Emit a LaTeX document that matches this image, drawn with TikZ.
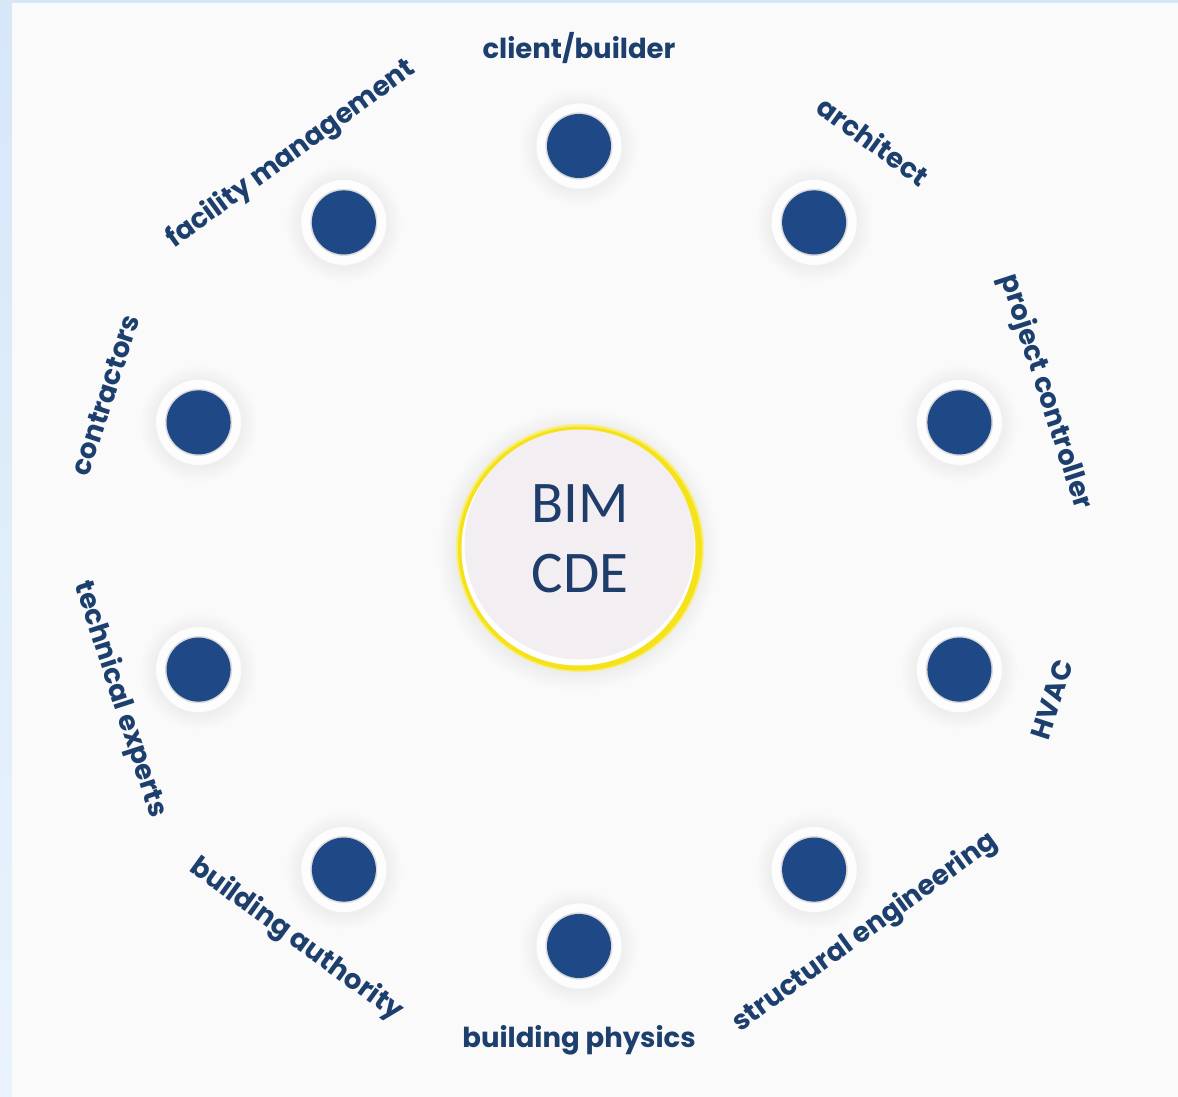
\documentclass[tikz,border=0pt]{standalone}
\usepackage{fontspec}
\usetikzlibrary{calc}
\newfontfamily\labfont{Poppins}
\newfontfamily\cdefont{Carlito}
\definecolor{bgpanel}{HTML}{FAFAFA}
\definecolor{frameblue}{HTML}{D6E7F8}
\definecolor{framelow}{HTML}{EAF3FD}
\definecolor{labblue}{HTML}{1D3F6E}
\definecolor{diskblue}{HTML}{1E4886}
\definecolor{cdeblue}{HTML}{1F3D6B}
\definecolor{rimyellow}{HTML}{F5E21A}
\definecolor{rimglow}{HTML}{F8EE7A}
\definecolor{corefill}{HTML}{F2EEF2}
\begin{document}
\begin{tikzpicture}[x=1pt,y=1pt,
  lab/.style={font=\labfont\bfseries\fontsize{27.5}{30}\selectfont, text=labblue, inner sep=0pt},
  member/.style={circle, fill=diskblue, minimum size=64pt, inner sep=0pt},
  halo/.style={fill=black, opacity=0.0055},
]
\useasboundingbox (-579,-551) rectangle (599,546);
\shade[bottom color=framelow, top color=frameblue] (-579,-551) rectangle (599,546);
\fill[bgpanel] (-567,-551) rectangle (599,543);

% member discs
\foreach \a/\nm in {90/client,54/architect,18/projctrl,-18/hvac,-54/struct,-90/physics,-126/authority,-162/techexp,-198/contractors,-234/facility}{
  \foreach \i in {1,...,12} \fill[halo] ($(\a:400)+(0,-1.5)$) circle ({42+\i*1.4});
  \fill[white!60!bgpanel] (\a:400) circle (43);
  \draw[black!6, line width=0.8pt] (\a:400) circle (43);
  \fill[black!14] (\a:400) circle (33.6);
  \node[member] (\nm) at (\a:400) {};
}

% centre
\foreach \i in {1,...,14} \fill[halo] (-1,-4) circle ({120+\i*1.5});
\fill[rimglow] (1,-2) circle (124);
\fill[rimyellow] (1,-2.5) circle (122);
\fill[white] (-0.5,-2.5) circle (117);
\node[circle, fill=corefill, minimum size=230pt, inner sep=0pt] (core) at (0.5,1.5) {};
\node[font=\cdefont\fontsize{59}{70}\selectfont, text=cdeblue, align=center, inner sep=0pt] (cde) at (1,7.5) {BIM\\CDE};

% labels
\node[lab, rotate=0] (lclient) at (90:498) {client/builder};
\node[lab, rotate=-36] (larch) at (54:501) {architect};
\node[lab, rotate=-72] (lproj) at (18.3:491) {project controller};
\node[lab, rotate=72] (lhvac) at (-18:497) {HVAC};
\node[lab, rotate=36] (lstruct) at (-53.5:481) {structural engineering};
\node[lab, rotate=0] (lphys) at (-90:494) {building physics};
\node[lab, rotate=-36] (lauth) at (-125.7:485) {building authority};
\node[lab, rotate=-72] (ltech) at (-161.5:484) {technical experts};
\node[lab, rotate=72] (lcont) at (162.3:497) {contractors};
\node[lab, rotate=36] (lfac) at (126.3:486) {facility management};
\end{tikzpicture}
\end{document}
